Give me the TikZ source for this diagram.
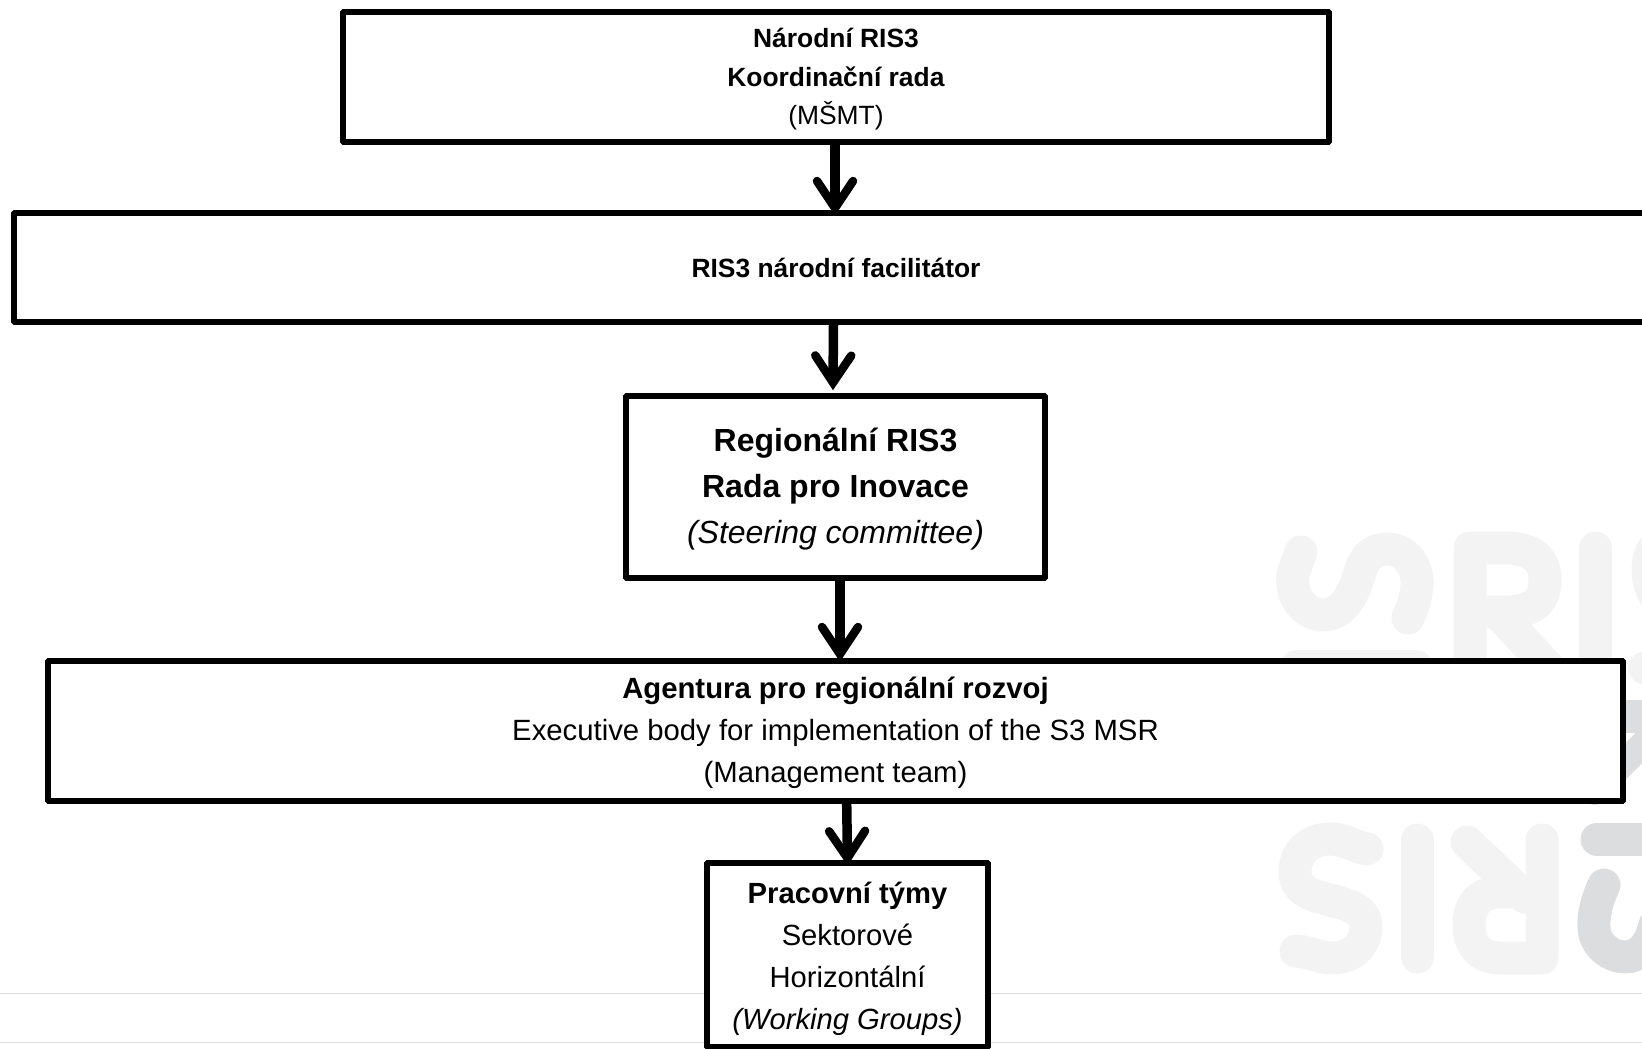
\documentclass[tikz,border=0pt]{standalone}
\usepackage{fontspec}
\setmainfont{Liberation Sans}
\usetikzlibrary{arrows.meta}
\definecolor{wmlight}{HTML}{F3F3F3}
\definecolor{wmdark}{HTML}{DCDDDE}
\definecolor{rule}{HTML}{DEDEDE}
\tikzset{
  x=1pt,y=-1pt,
  stagebox/.style={draw=black,fill=white,line width=5.6pt,align=center,inner sep=0pt,rounded corners=0.5pt},
  flow/.style={line width=9.5pt,-{Straight Barb[length=27pt,width=36pt,line width=8.5pt,line cap=round,line join=miter]},shorten >=-5.5pt},
  wm/.style={line width=33pt,line cap=round,line join=round},
}
\newcommand{\fs}[2]{\fontsize{#1}{#2}\selectfont}
\newcommand{\firstline}[1]{\rule{0pt}{#1pt}}
\begin{document}
\begin{tikzpicture}
\useasboundingbox (0,0) rectangle (1642,1049);
% watermark
\begin{scope}[wm,draw=wmlight]
  \draw (1301,552) .. controls (1295,570) and (1290,575) .. (1294,590) .. controls (1298,607) and (1312,615) .. (1323,615) .. controls (1345,615) and (1355,590) .. (1360,572) .. controls (1365,555) and (1375,549) .. (1387,549) .. controls (1405,549) and (1418,565) .. (1417,585) .. controls (1416,600) and (1412,608) .. (1408,618);
  \draw (1470,680) -- (1470,548) -- (1505,548) .. controls (1535,548) and (1545,562) .. (1545,580) .. controls (1545,600) and (1535,612) .. (1505,612) -- (1470,612);
  \draw (1500,615) -- (1560,680);
  \draw (1595,548) -- (1595,680);
  \draw (1297,666) -- (1416,666);
  \draw (1655,548) .. controls (1645,555) and (1645,590) .. (1660,600);
  \draw (1645,668) -- (1660,675);
  \draw (1367,849) .. controls (1355,847) and (1345,839) .. (1330,839) .. controls (1310,839) and (1295,852) .. (1295,872) .. controls (1295,890) and (1310,895) .. (1330,900) .. controls (1350,905) and (1366,910) .. (1366,926) .. controls (1366,947) and (1350,958) .. (1332,958) .. controls (1320,958) and (1310,952) .. (1296,951);
  \draw (1417,840) -- (1417,957);
  \draw (1467,842) -- (1525,897);
  \draw (1542,840) -- (1542,958) -- (1500,958) .. controls (1480,958) and (1469,945) .. (1469,925) .. controls (1469,905) and (1480,892) .. (1500,892) -- (1542,892);
\end{scope}
\begin{scope}[wm,draw=wmdark]
  \draw (1595,716) -- (1660,716);
  \draw[line width=26pt] (1595,792) -- (1660,727);
  \draw (1597,839) -- (1660,839);
  \draw (1604,885) .. controls (1597,900) and (1593,915) .. (1594,928) .. controls (1595,945) and (1610,957) .. (1625,957) .. controls (1640,957) and (1650,945) .. (1655,925);
\end{scope}
% page rules
\coordinate (ruleAl) at (0,993.5); \coordinate (ruleAr) at (1642,993.5);
\coordinate (ruleBl) at (0,1042.5); \coordinate (ruleBr) at (1642,1042.5);
\draw[rule,line width=1.6pt] (ruleAl) -- (ruleAr);
\draw[rule,line width=1.6pt] (ruleBl) -- (ruleBr);
% boxes
\node[stagebox,minimum width=986pt,minimum height=130pt,font=\fs{26.4}{38.5}] (b1) at (836,77)
  {\firstline{24}\textbf{Národní RIS3}\\ \textbf{Koordinační rada}\\ (MŠMT)};
\node[stagebox,minimum width=1644pt,minimum height=109pt,font=\fs{26.4}{38.5}] (b2) at (836,267.5)
  {\textbf{RIS3 národní facilitátor}};
\node[stagebox,minimum width=419pt,minimum height=182pt,font=\fs{32}{46}] (b3) at (835.5,487)
  {\firstline{28}\textbf{Regionální RIS3}\\ \textbf{Rada pro Inovace}\\ \textit{(Steering committee)}};
\node[stagebox,minimum width=1575pt,minimum height=140pt,font=\fs{29.3}{42}] (b4) at (835.5,731)
  {\firstline{26}\textbf{Agentura pro regionální rozvoj}\\ Executive body for implementation of the S3 MSR\\ (Management team)};
\node[stagebox,minimum width=281pt,minimum height=184pt,font=\fs{29.2}{42}] (b5) at (847.5,955)
  {\firstline{30}\textbf{Pracovní týmy}\\ Sektorové\\ Horizontální\\ \textit{(Working Groups)}};
% connectors
\draw[flow] ([xshift=-1pt]b1.south) -- ([xshift=-1pt]b2.north);
\draw[flow] ([xshift=-2.5pt]b2.south) -- ([xshift=-2.5pt,yshift=8.5pt]b3.north);
\draw[flow] ([xshift=4.5pt]b3.south) -- ([xshift=4.5pt,yshift=2pt]b4.north);
\draw[flow] ([xshift=-0.8pt]b4.south -| b5.north) -- (b5.north);
\end{tikzpicture}
\end{document}
